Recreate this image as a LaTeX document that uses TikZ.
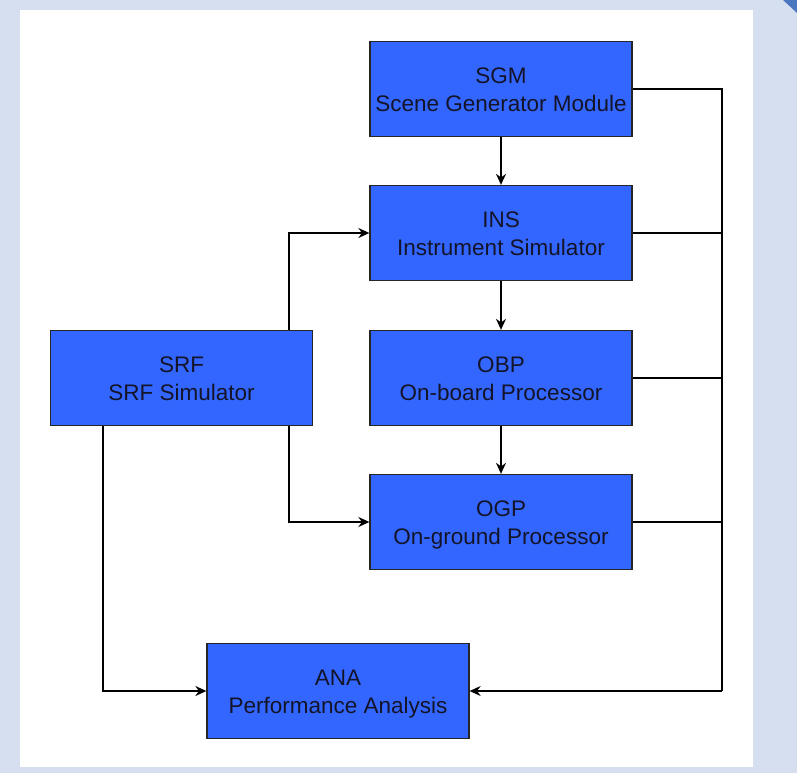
\documentclass[tikz,border=0pt]{standalone}
\usepackage{fontspec}
\setmainfont{Liberation Sans}
\usetikzlibrary{arrows.meta}
\definecolor{bgout}{HTML}{D5DFF0}
\definecolor{boxfill}{HTML}{3366FF}
\definecolor{corner}{HTML}{4A78C0}
\definecolor{txt}{HTML}{141428}
\tikzset{
  blk/.style={draw=black!85, line width=1.3pt, fill=boxfill, minimum width=262pt, minimum height=95pt,
    inner sep=0pt, align=center, text=txt, font=\fontsize{22.5}{28}\selectfont},
  conn/.style={draw=black, line width=1.5pt},
  arr/.style={conn, -{Stealth[length=11pt,width=10pt]}}
}
\newcommand{\lowtxt}[1]{\raisebox{0pt}[\dimexpr\height+6pt\relax]{\begin{tabular}{@{}c@{}}#1\end{tabular}}}
\begin{document}
\begin{tikzpicture}[x=1pt,y=-1pt]
\useasboundingbox (0,0) rectangle (797,773);
\fill[bgout] (0,0) rectangle (797,773);
\fill[white] (20,10) rectangle (753,767);
\fill[corner] (783,0) -- (797,0) -- (797,13) -- cycle;

\node[blk] (sgm) at (501,89) {\lowtxt{SGM\\Scene Generator Module}};
\node[blk] (ins) at (501,233) {\lowtxt{INS\\Instrument Simulator}};
\node[blk] (obp) at (501,378) {\lowtxt{OBP\\On-board Processor}};
\node[blk] (ogp) at (501,522) {\lowtxt{OGP\\On-ground Processor}};
\node[blk] (srf) at (181.5,378) {\lowtxt{SRF\\SRF Simulator}};
\node[blk] (ana) at (338,691) {\lowtxt{ANA\\Performance Analysis}};

\coordinate (bus) at (722,691);

\draw[arr] (sgm) -- (ins);
\draw[arr] (ins) -- (obp);
\draw[arr] (obp) -- (ogp);

\draw[arr] (srf.north -| 289,0) |- (ins.west);
\draw[arr] (srf.south -| 289,0) |- (ogp.west);
\draw[arr] (srf.south -| 103,0) |- (ana.west);

\draw[conn] (sgm.east) -| (bus);
\draw[arr] (bus) -- (ana.east);
\draw[conn] (ins.east) -- (ins.east -| bus);
\draw[conn] (obp.east) -- (obp.east -| bus);
\draw[conn] (ogp.east) -- (ogp.east -| bus);
\end{tikzpicture}
\end{document}
